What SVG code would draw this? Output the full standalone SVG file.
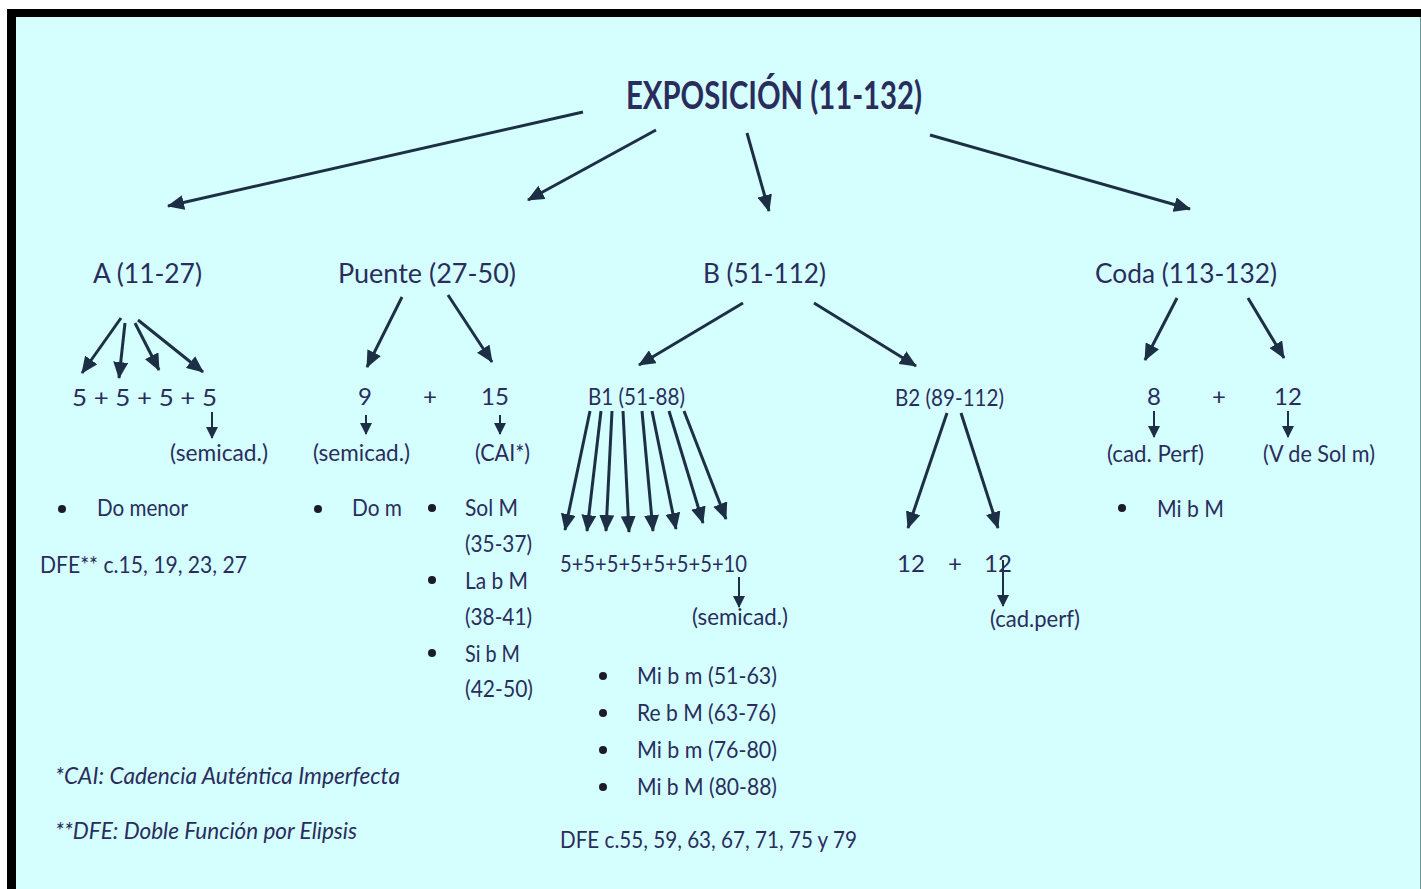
<svg xmlns="http://www.w3.org/2000/svg" width="1421" height="889" viewBox="0 0 1421 889">
<defs>
<style>
text{font-family:Lato,"Open Sans","Liberation Sans",sans-serif;fill:#2a2d5c}
.t{font-size:38px;font-weight:bold}
.l1{font-size:27px}
.b{font-size:24px}
.fn{font-size:23px;font-style:italic}
.c{stroke:#1d2f45;stroke-width:3;fill:none}
.s{stroke:#1d2f45;stroke-width:2;fill:none}
.dot{fill:#1b1b2a}
</style>
<marker id="ah" viewBox="0 0 17 15" refX="16" refY="7.5" markerWidth="17" markerHeight="15" markerUnits="userSpaceOnUse" orient="auto">
<path d="M0,0 L17,7.5 L0,15 Z" fill="#1d2f45"/>
</marker>
<marker id="ahs" viewBox="0 0 12 12" refX="11" refY="6" markerWidth="12" markerHeight="12" markerUnits="userSpaceOnUse" orient="auto">
<path d="M0,0 L12,6 L0,12 Z" fill="#1d2f45"/>
</marker>
</defs>
<rect x="0" y="0" width="1421" height="889" fill="#ffffff"/>
<rect x="7" y="9" width="1414" height="880" fill="#000000"/>
<rect x="16" y="17" width="1404" height="872" fill="#d4fffe"/>
<line x1="1420.5" y1="17" x2="1420.5" y2="889" stroke="#6f9a98" stroke-width="1"/>

<g id="connectors">
<line class="c" x1="583" y1="112" x2="168" y2="206" marker-end="url(#ah)"/>
<line class="c" x1="656" y1="130" x2="528" y2="200" marker-end="url(#ah)"/>
<line class="c" x1="747" y1="133" x2="769" y2="211" marker-end="url(#ah)"/>
<line class="c" x1="930" y1="135" x2="1190" y2="209" marker-end="url(#ah)"/>

<line class="c" x1="121" y1="318" x2="82" y2="373" marker-end="url(#ah)"/>
<line class="c" x1="125" y1="323" x2="119" y2="378" marker-end="url(#ah)"/>
<line class="c" x1="135" y1="323" x2="159" y2="370" marker-end="url(#ah)"/>
<line class="c" x1="138" y1="320" x2="203" y2="372" marker-end="url(#ah)"/>
<line class="s" x1="212" y1="412" x2="212" y2="438" marker-end="url(#ahs)"/>

<line class="c" x1="402" y1="297" x2="367" y2="367" marker-end="url(#ah)"/>
<line class="c" x1="448" y1="295" x2="492" y2="362" marker-end="url(#ah)"/>
<line class="s" x1="366" y1="415" x2="366" y2="434" marker-end="url(#ahs)"/>
<line class="s" x1="500" y1="415" x2="500" y2="434" marker-end="url(#ahs)"/>

<line class="c" x1="743" y1="303" x2="639" y2="365" marker-end="url(#ah)"/>
<line class="c" x1="814" y1="303" x2="916" y2="366" marker-end="url(#ah)"/>

<line class="c" x1="590" y1="411" x2="565" y2="530" marker-end="url(#ah)"/>
<line class="c" x1="601" y1="411" x2="587" y2="531" marker-end="url(#ah)"/>
<line class="c" x1="612" y1="411" x2="606" y2="531" marker-end="url(#ah)"/>
<line class="c" x1="623" y1="411" x2="629" y2="532" marker-end="url(#ah)"/>
<line class="c" x1="642" y1="411" x2="653" y2="531" marker-end="url(#ah)"/>
<line class="c" x1="652" y1="411" x2="676" y2="529" marker-end="url(#ah)"/>
<line class="c" x1="669" y1="411" x2="703" y2="523" marker-end="url(#ah)"/>
<line class="c" x1="684" y1="411" x2="726" y2="519" marker-end="url(#ah)"/>
<line class="s" x1="739" y1="577" x2="739" y2="607" marker-end="url(#ahs)"/>

<line class="c" x1="947" y1="413" x2="908" y2="528" marker-end="url(#ah)"/>
<line class="c" x1="961" y1="413" x2="998" y2="528" marker-end="url(#ah)"/>
<line class="s" x1="1003" y1="560" x2="1003" y2="606" marker-end="url(#ahs)"/>

<line class="c" x1="1177" y1="298" x2="1145" y2="360" marker-end="url(#ah)"/>
<line class="c" x1="1248" y1="298" x2="1284" y2="358" marker-end="url(#ah)"/>
<line class="s" x1="1154" y1="411" x2="1154" y2="437" marker-end="url(#ahs)"/>
<line class="s" x1="1288" y1="411" x2="1288" y2="437" marker-end="url(#ahs)"/>
</g>

<g id="exposicion"><text class="t" x="626" y="109" textLength="296" lengthAdjust="spacingAndGlyphs">EXPOSICIÓN (11-132)</text></g>

<g id="nodeA">
<text class="l1" x="93" y="283" textLength="109" lengthAdjust="spacingAndGlyphs">A (11-27)</text>
</g>
<g id="nodeA-sub">
<text class="b" x="72" y="406" textLength="145" lengthAdjust="spacingAndGlyphs">5 + 5 + 5 + 5</text>
<text class="b" x="170" y="461" textLength="98" lengthAdjust="spacingAndGlyphs">(semicad.)</text>
<circle class="dot" cx="62" cy="509" r="4"/>
<text class="b" x="97" y="516" textLength="91" lengthAdjust="spacingAndGlyphs">Do menor</text>
<text class="b" x="40" y="573" textLength="207" lengthAdjust="spacingAndGlyphs">DFE** c.15, 19, 23, 27</text>
</g>

<g id="nodePuente">
<text class="l1" x="338" y="283" textLength="178" lengthAdjust="spacingAndGlyphs">Puente (27-50)</text>
</g>
<g id="nodePuente-sub">
<text class="b" x="365" y="405" text-anchor="middle">9</text>
<text class="b" x="430" y="405" text-anchor="middle">+</text>
<text class="b" x="495" y="405" text-anchor="middle">15</text>
<text class="b" x="313" y="461" textLength="97" lengthAdjust="spacingAndGlyphs">(semicad.)</text>
<text class="b" x="475" y="461" textLength="55" lengthAdjust="spacingAndGlyphs">(CAI*)</text>
<circle class="dot" cx="318" cy="509" r="4"/>
<text class="b" x="352" y="516" textLength="50" lengthAdjust="spacingAndGlyphs">Do m</text>
<circle class="dot" cx="432" cy="508" r="4"/>
<text class="b" x="465" y="516" textLength="53" lengthAdjust="spacingAndGlyphs">Sol M</text>
<text class="b" x="465" y="552" textLength="67" lengthAdjust="spacingAndGlyphs">(35-37)</text>
<circle class="dot" cx="432" cy="580" r="4"/>
<text class="b" x="465" y="589" textLength="63" lengthAdjust="spacingAndGlyphs">La b M</text>
<text class="b" x="465" y="625" textLength="67" lengthAdjust="spacingAndGlyphs">(38-41)</text>
<circle class="dot" cx="432" cy="653" r="4"/>
<text class="b" x="465" y="662" textLength="55" lengthAdjust="spacingAndGlyphs">Si b M</text>
<text class="b" x="465" y="697" textLength="68" lengthAdjust="spacingAndGlyphs">(42-50)</text>
</g>

<g id="nodeB">
<text class="l1" x="703" y="283" textLength="123" lengthAdjust="spacingAndGlyphs">B (51-112)</text>
</g>
<g id="nodeB1">
<text class="b" x="588" y="405" textLength="97" lengthAdjust="spacingAndGlyphs">B1 (51-88)</text>
<text class="b" x="560" y="572" textLength="187" lengthAdjust="spacingAndGlyphs">5+5+5+5+5+5+5+10</text>
<text class="b" x="692" y="625" textLength="96" lengthAdjust="spacingAndGlyphs">(semicad.)</text>
<circle class="dot" cx="603" cy="676" r="4"/>
<text class="b" x="637" y="684" textLength="140" lengthAdjust="spacingAndGlyphs">Mi b m (51-63)</text>
<circle class="dot" cx="603" cy="713" r="4"/>
<text class="b" x="637" y="721" textLength="139" lengthAdjust="spacingAndGlyphs">Re b M (63-76)</text>
<circle class="dot" cx="603" cy="750" r="4"/>
<text class="b" x="637" y="758" textLength="140" lengthAdjust="spacingAndGlyphs">Mi b m (76-80)</text>
<circle class="dot" cx="603" cy="787" r="4"/>
<text class="b" x="637" y="795" textLength="140" lengthAdjust="spacingAndGlyphs">Mi b M (80-88)</text>
<text class="b" x="560" y="848" textLength="297" lengthAdjust="spacingAndGlyphs">DFE c.55, 59, 63, 67, 71, 75 y 79</text>
</g>
<g id="nodeB2">
<text class="b" x="895" y="406" textLength="109" lengthAdjust="spacingAndGlyphs">B2 (89-112)</text>
<text class="b" x="911" y="572" text-anchor="middle">12</text>
<text class="b" x="955" y="572" text-anchor="middle">+</text>
<text class="b" x="998" y="572" text-anchor="middle">12</text>
<text class="b" x="990" y="627" textLength="90" lengthAdjust="spacingAndGlyphs">(cad.perf)</text>
</g>

<g id="nodeCoda">
<text class="l1" x="1095" y="283" textLength="182" lengthAdjust="spacingAndGlyphs">Coda (113-132)</text>
</g>
<g id="nodeCoda-sub">
<text class="b" x="1154" y="405" text-anchor="middle">8</text>
<text class="b" x="1219" y="405" text-anchor="middle">+</text>
<text class="b" x="1288" y="405" text-anchor="middle">12</text>
<text class="b" x="1107" y="462" textLength="97" lengthAdjust="spacingAndGlyphs">(cad. Perf)</text>
<text class="b" x="1263" y="462" textLength="112" lengthAdjust="spacingAndGlyphs">(V de Sol m)</text>
<circle class="dot" cx="1122" cy="508" r="4"/>
<text class="b" x="1157" y="517" textLength="67" lengthAdjust="spacingAndGlyphs">Mi b M</text>
</g>

<g id="footnotes">
<text class="fn" x="55" y="784" textLength="345" lengthAdjust="spacingAndGlyphs">*CAI: Cadencia Auténtica Imperfecta</text>
<text class="fn" x="55" y="839" textLength="302" lengthAdjust="spacingAndGlyphs">**DFE: Doble Función por Elipsis</text>
</g>
</svg>
